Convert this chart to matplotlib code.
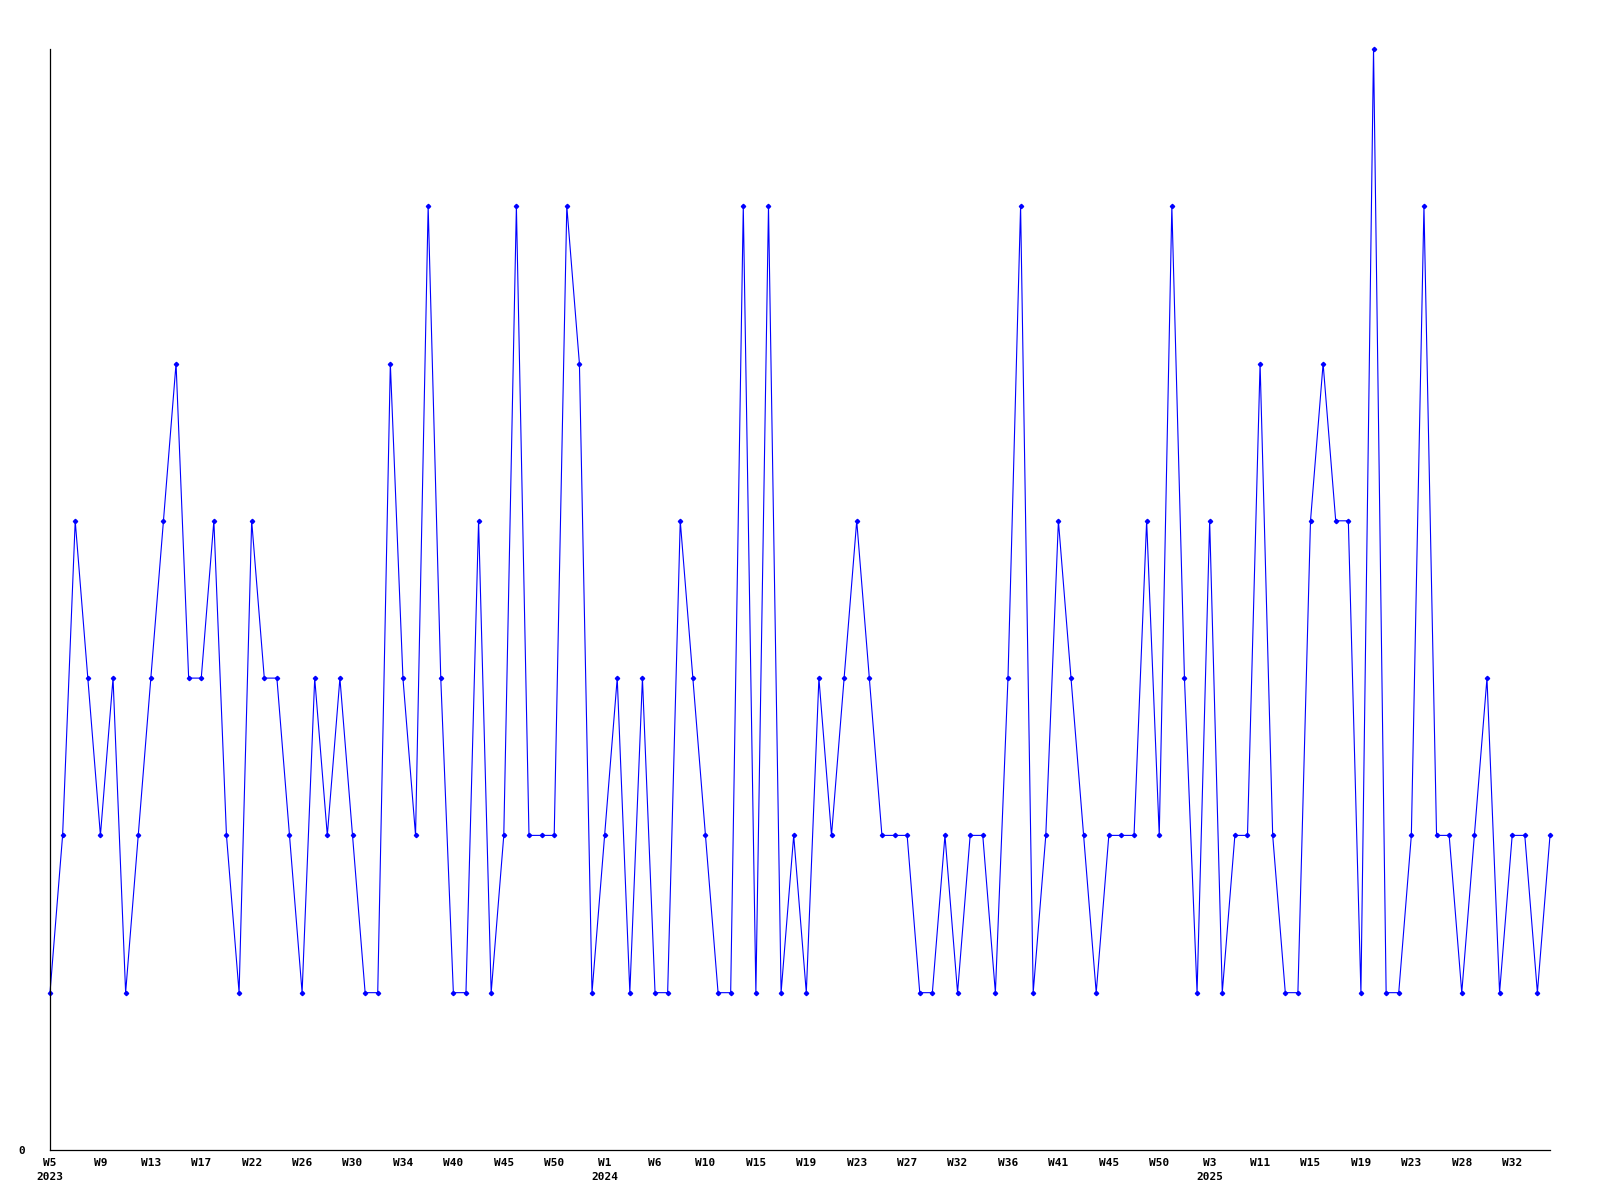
import matplotlib
matplotlib.use("Agg")
import matplotlib.pyplot as plt
import numpy as np

# weekly counts, one point per week that has data
values = [1, 2, 4, 3, 2, 3, 1, 2, 3, 4,
          5, 3, 3, 4, 2, 1, 4, 3, 3, 2,
          1, 3, 2, 3, 2, 1, 1, 5, 3, 2,
          6, 3, 1, 1, 4, 1, 2, 6, 2, 2,
          2, 6, 5, 1, 2, 3, 1, 3, 1, 1,
          4, 3, 2, 1, 1, 6, 1, 6, 1, 2,
          1, 3, 2, 3, 4, 3, 2, 2, 2, 1,
          1, 2, 1, 2, 2, 1, 3, 6, 1, 2,
          4, 3, 2, 1, 2, 2, 2, 4, 2, 6,
          3, 1, 4, 1, 2, 2, 5, 2, 1, 1,
          4, 5, 4, 4, 1, 7, 1, 1, 2, 6,
          2, 2, 1, 2, 3, 1, 2, 2, 1, 2]

# every 4th point is labelled
week_labels = ["W5", "W9", "W13", "W17", "W22", "W26", "W30", "W34", "W40", "W45",
               "W50", "W1", "W6", "W10", "W15", "W19", "W23", "W27", "W32", "W36",
               "W41", "W45", "W50", "W3", "W11", "W15", "W19", "W23", "W28", "W32"]
years = ["2023", "2024", "2025"]
year_pos = [0, 44, 92]

fig = plt.figure(figsize=(16, 12), dpi=100)
ax = fig.add_axes([0.03125, 0.0417, 0.9375, 0.9175])

x = np.arange(len(values))
ax.plot(x, values, color="#0000ff", linewidth=0.8, marker="D", markersize=2.2,
        markerfacecolor="#0000ff", markeredgecolor="#0000ff", clip_on=False)

ax.set_xlim(0, len(values) - 1)
ax.set_ylim(0, max(values))

for s in ["top", "right"]:
    ax.spines[s].set_visible(False)
for s in ["left", "bottom"]:
    ax.spines[s].set_color("black")
    ax.spines[s].set_linewidth(0.9)

font = dict(family="DejaVu Sans Mono", weight="bold", size=8)

ax.set_xticks(np.arange(0, len(values), 4))
ax.set_xticklabels(week_labels, fontdict=font)
ax.tick_params(axis="x", length=0, pad=6)

ax.set_yticks([0])
ax.set_yticklabels(["0"], fontdict=font)
ax.tick_params(axis="y", length=0, pad=18)

for yr, p in zip(years, year_pos):
    ax.annotate(yr, xy=(p, 0), xycoords=("data", "axes fraction"),
                xytext=(0, -16), textcoords="offset points",
                ha="center", va="top", **font)

fig.savefig("out.png", dpi=100)
